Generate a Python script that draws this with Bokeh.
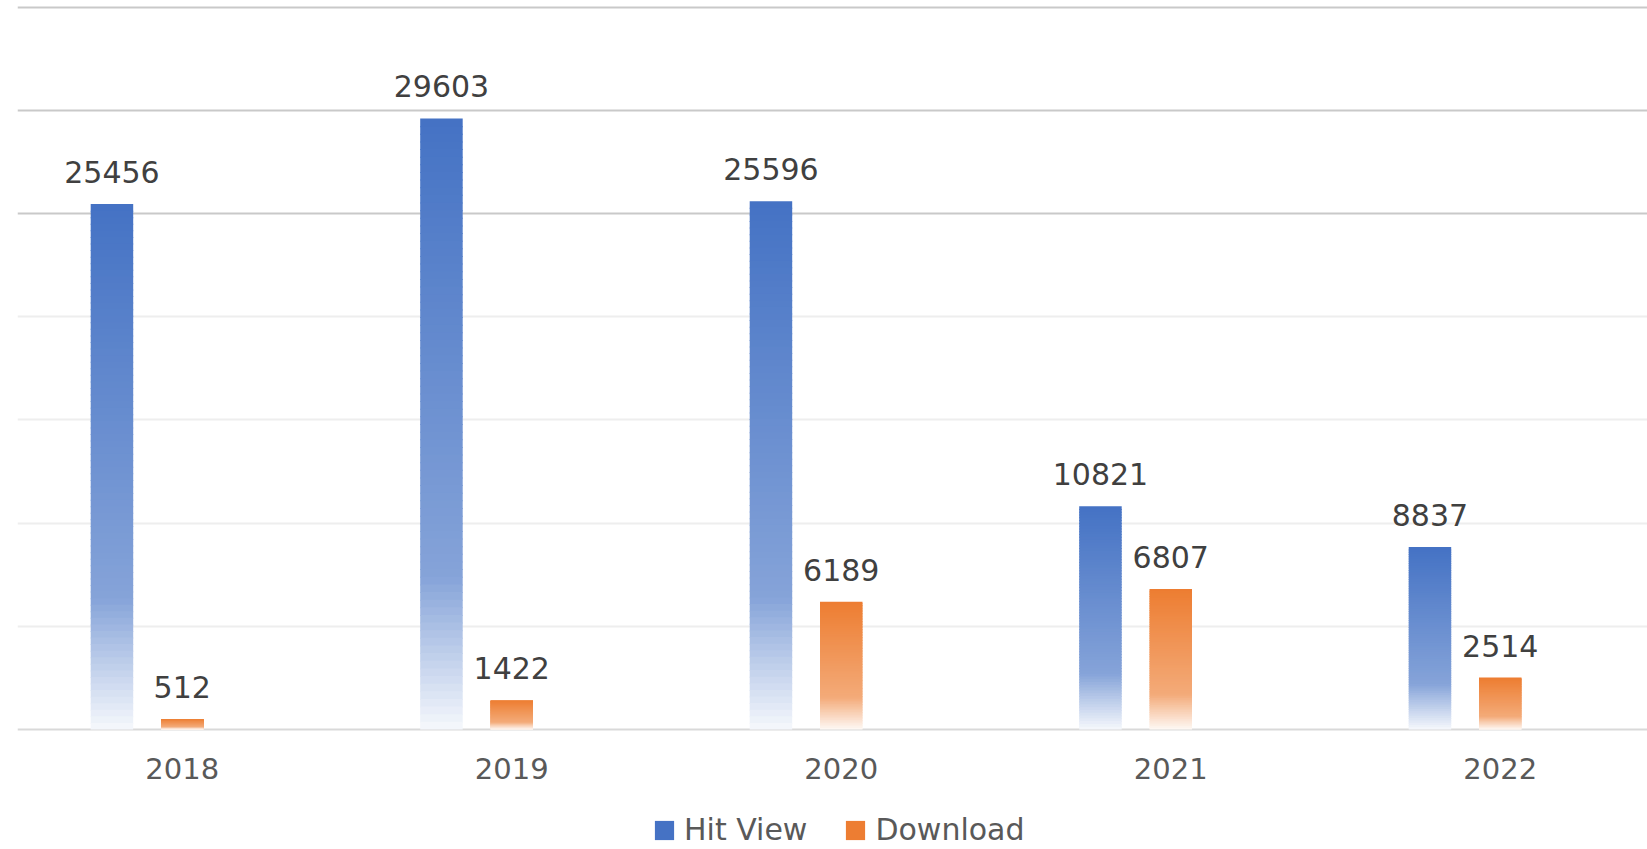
import numpy as np
from bokeh.plotting import figure
from bokeh.models import (ColumnDataSource, LabelSet, Legend, LegendItem, Grid,
                          FixedTicker, Range1d)
from bokeh.core.properties import value
from bokeh.embed import file_html
from bokeh.resources import INLINE

# ---------------- data ----------------
YEARS = ["2018", "2019", "2020", "2021", "2022"]
HIT_VIEW = [25456, 29603, 25596, 10821, 8837]
DOWNLOAD = [512, 1422, 6189, 6807, 2514]
SERIES_NAMES = ["Hit View", "Download"]
GRID_LIGHT = [5000, 10000, 15000, 20000]
GRID_DARK = [25000, 30000, 35000]
BASELINE = [0]
Y_MAX = 35000

# ---------------- layout constants (pixels) ----------------
W, H = 1647, 849
LEFT = 17
FRAME_W = W - LEFT
CAT_PX = 329.5
ZERO_PX = 729
TOP_PX = 6.6
PX_PER_UNIT = (ZERO_PX - TOP_PX) / Y_MAX

x_start = -0.5
x_end = x_start + FRAME_W / CAT_PX
y_end = Y_MAX + TOP_PX / PX_PER_UNIT
y_start = -(H - ZERO_PX) / PX_PER_UNIT

BAR_W = 42.5 / CAT_PX
OFFSETS = [-70.3 / CAT_PX, 0.0]
COLORS = [(68, 114, 196), (237, 125, 49)]
N_SLICES = 80
OVERLAP = 1.0 / PX_PER_UNIT  # one pixel of overlap between slices

FONT = value("DejaVu Sans")


def alpha_at(t):
    if t <= 0.75:
        return 1.0 - 0.35 * t / 0.75
    return 0.65 - 0.60 * (t - 0.75) / 0.25


def blend(rgb, a):
    return "#%02x%02x%02x" % tuple(int(round(c * a + 255 * (1 - a))) for c in rgb)


p = figure(width=W, height=H,
           x_range=Range1d(x_start, x_end), y_range=Range1d(y_start, y_end),
           x_axis_location=None, y_axis_location=None,
           toolbar_location=None, output_backend="svg",
           min_border_left=LEFT, min_border_right=0,
           min_border_top=0, min_border_bottom=0,
           outline_line_color=None, background_fill_color="white",
           border_fill_color="white")

for g in p.grid:
    g.visible = False

p.add_layout(Grid(dimension=1, ticker=FixedTicker(ticks=GRID_LIGHT),
                  grid_line_color="#eeeeee", grid_line_width=2))
p.add_layout(Grid(dimension=1, ticker=FixedTicker(ticks=GRID_DARK),
                  grid_line_color="#c9c9c9", grid_line_width=2))
p.add_layout(Grid(dimension=1, ticker=FixedTicker(ticks=BASELINE),
                  grid_line_color="#d9d9d9", grid_line_width=2))

idx = np.arange(len(YEARS))
renderers = []
for s, vals in enumerate([HIT_VIEW, DOWNLOAD]):
    xs, tops, bots, cols = [], [], [], []
    for i, v in enumerate(vals):
        for k in range(N_SLICES):
            t0 = k / N_SLICES
            t1 = (k + 1) / N_SLICES
            xs.append(idx[i] + OFFSETS[s])
            tops.append(v * (1 - t0))
            b = v * (1 - t1)
            if k < N_SLICES - 1:
                b = max(0.0, b - OVERLAP)
            bots.append(b)
            cols.append(blend(COLORS[s], alpha_at((t0 + t1) / 2)))
    src = ColumnDataSource(dict(x=xs, top=tops, bottom=bots, color=cols))
    r = p.vbar(x="x", top="top", bottom="bottom", width=BAR_W, source=src,
               fill_color="color", line_color=None)
    renderers.append(r)

    lab_src = ColumnDataSource(dict(x=idx + OFFSETS[s], y=vals,
                                    t=[str(v) for v in vals]))
    p.add_layout(LabelSet(x="x", y="y", text="t", source=lab_src,
                          text_align="center", text_baseline="alphabetic",
                          y_offset=21, text_font=FONT, text_font_size="30px",
                          text_color="#404040"))

year_src = ColumnDataSource(dict(x=idx, y=[0] * len(YEARS), t=YEARS))
p.add_layout(LabelSet(x="x", y="y", text="t", source=year_src,
                      text_align="center", text_baseline="alphabetic",
                      y_offset=-49, text_font=FONT, text_font_size="29px",
                      text_color="#595959"))

legend = Legend(items=[LegendItem(label=SERIES_NAMES[0], renderers=[renderers[0]], index=0),
                       LegendItem(label=SERIES_NAMES[1], renderers=[renderers[1]], index=0)],
                orientation="horizontal", location=(635, 2),
                glyph_width=24, glyph_height=24, label_standoff=8, spacing=36,
                padding=0, margin=0, border_line_color=None,
                background_fill_alpha=0, label_text_font="DejaVu Sans",
                label_text_font_size="30px", label_text_color="#595959")
p.add_layout(legend)

open("out.html", "w").write(file_html(p, INLINE))
